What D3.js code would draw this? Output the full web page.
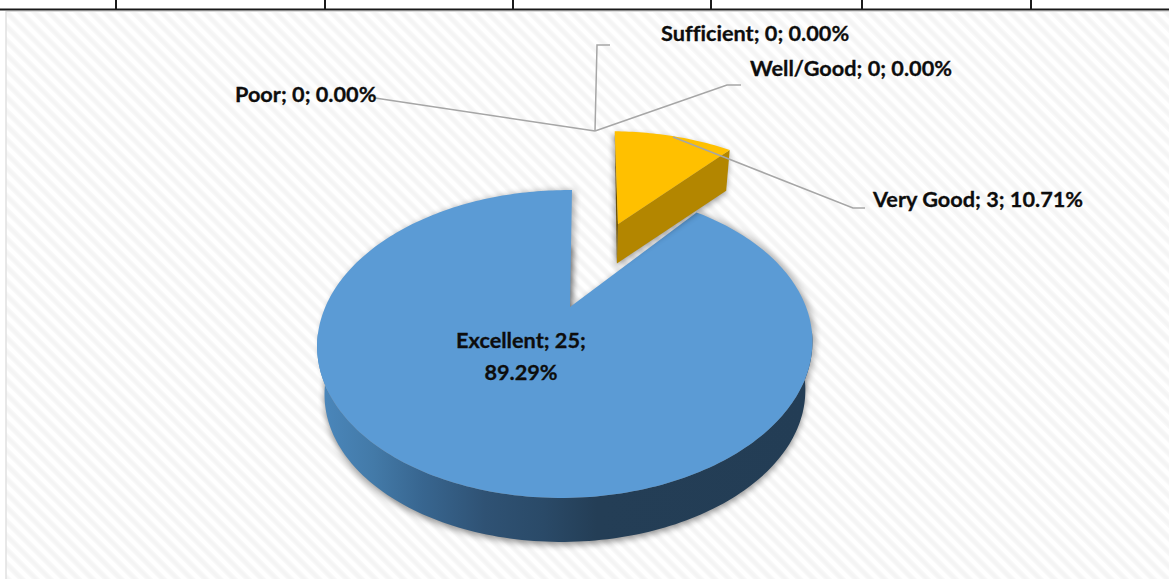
<!DOCTYPE html>
<html><head><meta charset="utf-8">
<script src="https://cdn.jsdelivr.net/npm/d3@7"></script>
<style>html,body{margin:0;padding:0;background:#fff;overflow:hidden}svg{display:block}
text{font-family:Lato,"Open Sans",sans-serif;font-weight:700;fill:#0d0d0d;stroke:#0d0d0d;stroke-width:.3;font-variant-ligatures:none}</style></head>
<body><svg id="c" width="1169" height="579"></svg>
<script>
const categories = ["Excellent","Very Good","Well/Good","Sufficient","Poor"];
const counts = [25,3,0,0,0];
const tableTicks = [116,325,513,711,862,1031];
const W=1169,H=579, svg=d3.select("#c");
const total=d3.sum(counts);
const pie=d3.pie().sort(null).value(d=>d).startAngle(2*Math.PI*3/28).endAngle(2*Math.PI*(1+3/28));
const arcs=pie(counts);

// perspective projection of the unit disc
const K=0.2403,M=0.018,A=145,B=240.3,X0=570,Y0=307,VY=2000;
function proj(u,v){const w=1-K*v+M*u;return [X0+B*u/w,Y0+A*v/w];}
function wedge(d,o){
  const n=Math.max(12,Math.ceil((d.endAngle-d.startAngle)/0.02));
  const s=d3.scaleLinear().domain([0,n]).range([d.startAngle,d.endAngle]);
  const f=(u,v)=>{const p=proj(u,v);return [p[0]+o.dx+(o.sy-p[1])*o.shear,p[1]+o.dy];};
  const rim=d3.range(n+1).map(i=>{const a=s(i);return f(o.ou+o.r*Math.sin(a),o.ov-o.r*Math.cos(a));});
  return {rim,apex:f(o.ou,o.ov)};
}
const drop=(p,t)=>[p[0]+(X0-p[0])*t,p[1]+(VY-p[1])*t];
const line=d3.line();

const defs=svg.append("defs");
const pat=defs.append("pattern").attr("id","st").attr("patternUnits","userSpaceOnUse").attr("width",10).attr("height",10).attr("patternTransform","rotate(45)");
pat.append("rect").attr("width",10).attr("height",10).attr("fill","#fff");
pat.append("rect").attr("y",1).attr("width",10).attr("height",6).attr("fill","#f9f9f9");
pat.append("rect").attr("y",2.5).attr("width",10).attr("height",3).attr("fill","#f4f4f4");
const blur=defs.append("filter").attr("id","soft").attr("x","-10%").attr("y","-10%").attr("width","120%").attr("height","130%");
blur.append("feGaussianBlur").attr("stdDeviation",3);
const gr=defs.append("linearGradient").attr("id","side").attr("gradientUnits","userSpaceOnUse").attr("x1",325).attr("x2",810).attr("y1",0).attr("y2",0);
[[0,"#4a86ba"],[0.1,"#437aa8"],[0.2,"#386690"],[0.33,"#2f5274"],[0.45,"#2a4a68"],[0.56,"#243e56"],[1,"#233d55"]].forEach(s=>gr.append("stop").attr("offset",s[0]).attr("stop-color",s[1]));

// page + chart background
svg.append("rect").attr("width",W).attr("height",H).attr("fill","#fff");
svg.append("rect").attr("x",6).attr("y",11).attr("width",W-6).attr("height",H-11).attr("fill","url(#st)");
svg.append("line").attr("x1",6).attr("x2",6).attr("y1",11).attr("y2",H).attr("stroke","#e0e0e0").attr("stroke-width",1.5);
svg.append("line").attr("x1",6).attr("x2",W).attr("y1",11.5).attr("y2",11.5).attr("stroke","#dcdcdc").attr("stroke-width",1);
svg.append("line").attr("x1",0).attr("x2",W).attr("y1",9.5).attr("y2",9.5).attr("stroke","#1a1a1a").attr("stroke-width",2);
svg.selectAll(".tk").data(tableTicks).join("line").attr("x1",d=>d).attr("x2",d=>d).attr("y1",0).attr("y2",10).attr("stroke","#1a1a1a").attr("stroke-width",2);

// Excellent
const ex=wedge(arcs[0],{ou:0,ov:0,r:1,dx:0,dy:0,shear:0.017,sy:307});
const exT=0.0293;
const exBot=ex.rim.map(p=>drop(p,exT));
const exPoly=[ex.apex,...ex.rim];
svg.append("path").attr("d",line([...exBot,drop(ex.apex,exT)])+"Z").attr("transform","translate(0,3)").attr("fill","#000").attr("opacity",.42).attr("filter","url(#soft)");
svg.append("path").attr("d",line(exPoly)+"Z").attr("transform","translate(3,0)").attr("fill","#000").attr("opacity",.3).attr("filter","url(#soft)");
// wall: only the front-facing part of the rim
const front=ex.rim.map((p,i)=>[p,exBot[i]]).filter(q=>q[0][1]>330);
svg.append("path").attr("d",line([...front.map(q=>q[0]),...front.map(q=>q[1]).reverse()])+"Z").attr("fill","url(#side)");
svg.append("path").attr("d",line(exPoly)+"Z").attr("fill","#5b9bd5");

// Very Good (exploded)
const vg=wedge(arcs[1],{ou:0.24,ov:-0.654,r:1.05,dx:-1.7,dy:-1,shear:0.061,sy:225});
const vgT=0.022;
const vr=vg.rim[vg.rim.length-1], vl=vg.rim[0], va=vg.apex;
const vgShadow=[vl,...vg.rim,drop(vr,vgT),drop(va,vgT)];
svg.append("path").attr("d",line(vgShadow)+"Z").attr("transform","translate(-1,3)").attr("fill","#000").attr("opacity",.4).attr("filter","url(#soft)");
svg.append("path").attr("d",line([va,vr,drop(vr,vgT),drop(va,vgT)])+"Z").attr("fill","#b38600");
svg.append("path").attr("d",line([vl,va,drop(va,vgT)])+"Z").attr("fill","#6b5000");
svg.append("path").attr("d",line([va,...vg.rim])+"Z").attr("fill","#ffc000");

// leader lines
const leaders=[
 [[375,98],[595,131]],
 [[610,45],[597,45],[595,131]],
 [[741,85],[727,85],[595,131]],
 [[673,137],[853,208],[865,208]]];
svg.selectAll(".ld").data(leaders).join("path").attr("d",d=>line(d)).attr("fill","none").attr("stroke","#a6a6a6").attr("stroke-width",1.5);

// labels
const FS=21.7;
const pct=i=>(counts[i]/total*100).toFixed(2)+"%";
const lab=i=>`${categories[i]}; ${counts[i]}; ${pct(i)}`;
const labels=[[4,235,102],[3,661,41],[2,750,76],[1,873,207]];
svg.selectAll(".lb").data(labels).join("text").attr("x",d=>d[1]).attr("y",d=>d[2]).attr("font-size",FS).text(d=>lab(d[0]));
const t=svg.append("text").attr("text-anchor","middle").attr("font-size",FS);
t.append("tspan").attr("x",521).attr("y",348).text(`${categories[0]}; ${counts[0]};`);
t.append("tspan").attr("x",521).attr("y",380).text(pct(0));
</script></body></html>
